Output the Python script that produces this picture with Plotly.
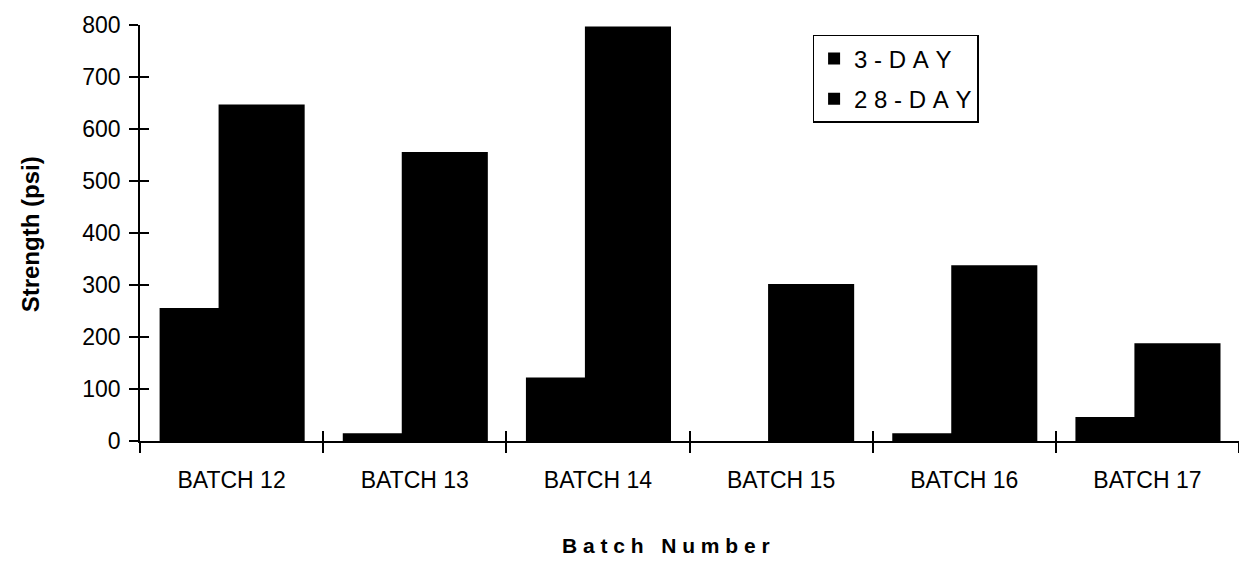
import plotly.graph_objects as go

# Compressive strength by batch (psi)
batches = ["BATCH 12", "BATCH 13", "BATCH 14", "BATCH 15", "BATCH 16", "BATCH 17"]
strength_3day = [256, 15, 122, 0, 15, 46]
strength_28day = [647, 556, 797, 302, 338, 188]

series_names = ["3\u00a0-\u00a0D\u00a0A\u00a0Y", "2\u00a08\u00a0-\u00a0D\u00a0A\u00a0Y"]
y_ticks = [0, 100, 200, 300, 400, 500, 600, 700, 800]

FONT = "Liberation Sans, Arial, sans-serif"

fig = go.Figure()
fig.add_trace(go.Bar(
    x=batches, y=strength_3day, name=series_names[0],
    marker=dict(color="black", line=dict(width=0)),
    width=0.47, offset=-0.393, legendgroup="a",
))
fig.add_trace(go.Bar(
    x=batches, y=strength_28day, name=series_names[1],
    marker=dict(color="black", line=dict(width=0)),
    width=0.47, offset=-0.071, legendgroup="b",
))
# invisible helper trace so the overlay axes (inside tick halves) are drawn
fig.add_trace(go.Scatter(
    x=batches, y=strength_28day, xaxis="x2", yaxis="y2",
    mode="markers", marker=dict(opacity=0), showlegend=False, hoverinfo="skip",
))

axis_common = dict(showgrid=False, zeroline=False, linecolor="black", linewidth=1.5,
                   tickcolor="black", tickwidth=1.5)

fig.update_layout(
    width=1239, height=563,
    margin=dict(l=140, r=0, t=25, b=122),
    paper_bgcolor="white", plot_bgcolor="white",
    barmode="overlay",
    font=dict(family=FONT, color="black", size=20),
    xaxis=dict(**axis_common, type="category", categoryorder="array", categoryarray=batches,
               range=[-0.5, 5.5], showline=True, ticks="outside", ticklen=10,
               tickson="boundaries", ticklabelstandoff=18,
               tickfont=dict(size=23, family=FONT)),
    xaxis2=dict(**axis_common, type="category", categoryorder="array", categoryarray=batches,
                range=[-0.5, 5.5], overlaying="x", anchor="y2", side="bottom",
                showline=False, ticks="inside", ticklen=10, tickson="boundaries",
                showticklabels=False),
    yaxis=dict(**axis_common, range=[0, 800], tickvals=y_ticks, showline=True,
               ticks="outside", ticklen=9, ticklabelstandoff=4,
               tickfont=dict(size=23, family=FONT)),
    yaxis2=dict(**axis_common, range=[0, 800], tickvals=y_ticks, overlaying="y",
                anchor="x2", side="left", showline=False, ticks="inside", ticklen=9,
                showticklabels=False),
    legend=dict(
        x=0.612, y=0.976, xanchor="left", yanchor="top",
        bordercolor="black", borderwidth=1.5, bgcolor="white",
        font=dict(size=24, family=FONT, color="black"),
        traceorder="grouped", tracegroupgap=6, itemwidth=30,
    ),
    showlegend=True,
    annotations=[
        dict(text="<b>B\u00a0a\u00a0t\u00a0c\u00a0h\u00a0\u00a0\u00a0N\u00a0u\u00a0m\u00a0b\u00a0e\u00a0r</b>",
             xref="paper", yref="paper", x=0.479, y=-0.25, xanchor="center", yanchor="middle",
             showarrow=False, font=dict(size=21, family=FONT)),
        dict(text="<b>Strength (psi)</b>", textangle=-90,
             xref="paper", yref="paper", x=-0.1, y=0.497, xanchor="center", yanchor="middle",
             showarrow=False, font=dict(size=24, family=FONT)),
    ],
)

fig.write_html("out.html")
